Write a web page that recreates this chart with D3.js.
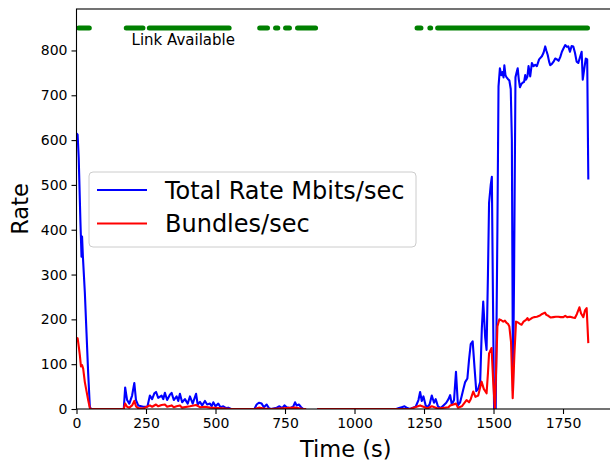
<!DOCTYPE html>
<html>
<head>
<meta charset="utf-8">
<script src="https://cdn.jsdelivr.net/npm/d3@7"></script>
<style>
  body { margin: 0; background: #fff; }
  svg { display: block; font-family: "DejaVu Sans", sans-serif; }
</style>
</head>
<body>
<svg id="chart" width="610" height="462"></svg>
<script>
// Total rate (blue), sampled times in seconds, null = gap in the trace
const rateTimes = [0, 4, 8, 14, 18, 20, 23, 30, 36, 42, 48, 52,
  170, 175, 182, 190, 200, 208, 214, 222, 240, 255, 264, 272, 280, 286, 294, 306, 312, 318, 326, 336, 342, 350,
  360, 366, 372, 380, 390, 400, 408, 418, 430, 436, 444, 452, 462, 470, 480, 486, 492, 500, 510, 518, 528, 538, 546, 556,
  640, 648, 656, 666, 674, 684, 692, 700, 720, 730, 740, 748, 756, 768, 780, 786, 792, 800, 808, 816, 826, 846,
  866, 1150, 1160, 1170, 1180, 1190, 1200, 1210, 1220, 1230, 1236, 1242, 1248, 1256, 1262, 1270, 1278, 1286, 1292,
  1300, 1310, 1320, 1330, 1338, 1344, 1350, 1358, 1365, 1372, 1380, 1386, 1391, 1398, 1406, 1412, 1418, 1425, 1432,
  1438, 1445, 1452, 1458, 1463, 1470, 1475, 1480, 1484, 1490, 1494, 1498, 1502, 1508, 1514, 1518, 1523, 1528, 1532,
  1536, 1539, 1543, 1547, 1551, 1557, 1562, 1566, 1570, 1574, 1579, 1583, 1587, 1591, 1595, 1600, 1605, 1610, 1614,
  1617, 1622, 1626, 1632, 1638, 1644, 1650, 1656, 1664, 1674, 1680, 1686, 1690, 1695, 1700, 1704, 1710, 1716, 1722,
  1728, 1734, 1740, 1746, 1752, 1758, 1764, 1769, 1775, 1781, 1787, 1793, 1799, 1805, 1811, 1817, 1821, 1826, 1832,
  1837, 1841];
const rateValues = [615, 612, 560, 420, 340, 385, 340, 260, 170, 80, 5, 0,
  0, 48, 20, 12, 30, 58, 20, 8, 5, 5, 30, 22, 35, 38, 25, 30, 22, 36, 20, 32, 36, 20,
  28, 18, 34, 15, 22, 12, 28, 12, 34, 10, 16, 8, 18, 10, 12, 6, 15, 6, 12, 4, 6, 2, 3, 0,
  0, 10, 14, 12, 4, 10, 2, 0, 3, 6, 2, 8, 4, 2, 6, 15, 8, 10, 4, 0, 0, null,
  0, 0, 2, 4, 6, 2, 0, 3, 5, 20, 38, 18, 28, 8, 4, 10, 30, 14, 22,
  6, 2, 8, 14, 22, 31, 10, 20, 83, 8, 15, 30, 43, 60, 68, 110, 145, 151, 90,
  40, 45, 60, 180, 240, 160, 132, 300, 460, 500, 518, 250, 0, 0, 400, 720, 760, 745, 752,
  740, 767, 745, 740, 737, 733, 714, 600, 40, 300, 740, 751, 760, 735, 718, 725, 728, 730, 745,
  735, 742, 765, 742, 772, 765, 768, 765, 780, 787, 795, 809, 800, 790, 775, 767, 770, 775, 782,
  780, 777, 785, 797, 805, 812, 808, 809, 797, 810, 809, 795, 775, 772, 785, 797, 735, 757, 782,
  780, 512];

// Bundles per second (red)
const bundleTimes = [0, 4, 8, 12, 16, 20, 24, 30, 36, 42, 48, 52,
  170, 175, 182, 190, 200, 208, 214, 222, 240, 264, 272, 286, 294, 306, 318, 326, 342, 350, 360, 372, 380,
  408, 430, 444, 462, 480, 510, 556,
  640, 656, 674, 700, 786, 816, 826, 846,
  866, 1200, 1236, 1248, 1262, 1278, 1300, 1338, 1344, 1365, 1372, 1386, 1403, 1412, 1418, 1427, 1435, 1445,
  1457, 1465, 1475, 1480, 1484, 1493, 1499, 1505, 1510, 1514, 1521, 1528, 1535, 1541, 1547, 1552, 1557, 1563,
  1569, 1575, 1581, 1588, 1595, 1601, 1608, 1617, 1622, 1626, 1631, 1638, 1646, 1656, 1665, 1675, 1685, 1690,
  1697, 1706, 1715, 1724, 1733, 1742, 1751, 1758, 1765, 1775, 1785, 1793, 1800, 1809, 1815, 1823, 1829, 1835,
  1841];
const bundleValues = [155, 158, 140, 120, 95, 98, 90, 60, 40, 20, 2, 0,
  0, 12, 5, 3, 8, 18, 6, 2, 1, 8, 5, 10, 6, 9, 10, 5, 8, 4, 6, 8, 3,
  6, 9, 4, 5, 3, 2, 0,
  0, 3, 1, 0, 3, 0, 0, null,
  0, 0, 8, 5, 1, 6, 1, 4, 8, 12, 3, 6, 20, 15, 22, 39, 27, 30,
  61, 45, 35, 80, 124, 136, 60, 0, 100, 184, 200, 198, 195, 197, 192, 190, 184, 150,
  24, 120, 195, 193, 190, 188, 195, 199, 203, 198, 200, 203, 205, 206, 208, 212, 215, 210,
  208, 204, 205, 206, 206, 205, 205, 208, 205, 206, 204, 203, 212, 227, 213, 205, 220, 225,
  147];

// Link availability windows (s)
const linkStart = [8, 179, 262, 659, 716, 752, 795, 1225, 1274, 1299];
const linkEnd = [46, 239, 549, 687, 724, 766, 860, 1239, 1271, 1838];

const xTicks = [0, 250, 500, 750, 1000, 1250, 1500, 1750];
const yTicks = [0, 100, 200, 300, 400, 500, 600, 700, 800];
const seriesNames = ["Total Rate Mbits/sec", "Bundles/sec"];
const seriesColors = ["blue", "red"];

const svg = d3.select("#chart");
const plot = {left: 76.5, right: 615, top: 9, bottom: 409};

const x = d3.scaleLinear().domain([0, 1937]).range([plot.left, plot.right]);
const y = d3.scaleLinear().domain([0, 892.5]).range([plot.bottom, plot.top]);

svg.append("defs").append("clipPath").attr("id", "clip")
  .append("rect")
  .attr("x", plot.left).attr("y", plot.top)
  .attr("width", plot.right - plot.left).attr("height", plot.bottom - plot.top);

const marks = svg.append("g").attr("clip-path", "url(#clip)");

// link availability
const linkLevel = 850;
marks.append("g").selectAll("line")
  .data(linkStart.map((s, i) => [s, linkEnd[i]]))
  .join("line")
  .attr("x1", d => x(d[0]))
  .attr("x2", d => x(d[1]))
  .attr("y1", y(linkLevel))
  .attr("y2", y(linkLevel))
  .attr("stroke", "green")
  .attr("stroke-width", 5)
  .attr("stroke-linecap", "round");

svg.append("text")
  .attr("x", x(198))
  .attr("y", y(812))
  .attr("font-size", 15)
  .attr("fill", "#000")
  .text("Link Available");

const line = d3.line()
  .defined(d => d[1] !== null)
  .x(d => x(d[0]))
  .y(d => y(d[1]));

const rateData = rateTimes.map((t, i) => [t, rateValues[i]]);
const bundleData = bundleTimes.map((t, i) => [t, bundleValues[i]]);

marks.append("path")
  .datum(rateData)
  .attr("fill", "none")
  .attr("stroke", seriesColors[0])
  .attr("stroke-width", 2.1)
  .attr("stroke-linejoin", "round")
  .attr("d", line);

marks.append("path")
  .datum(bundleData)
  .attr("fill", "none")
  .attr("stroke", seriesColors[1])
  .attr("stroke-width", 2.1)
  .attr("stroke-linejoin", "round")
  .attr("d", line);

// axes
const xAxis = d3.axisBottom(x).tickValues(xTicks).tickFormat(d3.format("d"))
  .tickSize(5).tickPadding(4).tickSizeOuter(0);
const gx = svg.append("g")
  .attr("transform", `translate(0, ${plot.bottom})`)
  .call(xAxis);
const yAxis = d3.axisLeft(y).tickValues(yTicks).tickFormat(d3.format("d"))
  .tickSize(5).tickPadding(4).tickSizeOuter(0);
const gy = svg.append("g")
  .attr("transform", `translate(${plot.left}, 0)`)
  .call(yAxis);

[gx, gy].forEach(g => {
  g.select(".domain").remove();
  g.selectAll(".tick line").attr("stroke", "#000").attr("stroke-width", 1.1);
  g.selectAll(".tick text")
    .attr("fill", "#000")
    .attr("font-size", 14)
    .attr("font-family", "DejaVu Sans, sans-serif");
});

// frame
svg.append("rect")
  .attr("x", plot.left).attr("y", plot.top)
  .attr("width", plot.right - plot.left).attr("height", plot.bottom - plot.top)
  .attr("fill", "none")
  .attr("stroke", "#000")
  .attr("stroke-width", 1.1);

svg.append("text")
  .attr("x", (plot.left + plot.right) / 2)
  .attr("y", 457)
  .attr("text-anchor", "middle")
  .attr("font-size", 22.5)
  .text("Time (s)");

svg.append("text")
  .attr("transform", `translate(28, ${(plot.top + plot.bottom) / 2}) rotate(-90)`)
  .attr("text-anchor", "middle")
  .attr("font-size", 22.5)
  .text("Rate");

// legend
const legend = svg.append("g");
legend.append("rect")
  .attr("x", 89).attr("y", 172)
  .attr("width", 327).attr("height", 75)
  .attr("rx", 4)
  .attr("fill", "#fff").attr("fill-opacity", 0.8)
  .attr("stroke", "#ccc").attr("stroke-width", 1);

const items = legend.selectAll("g.item")
  .data(seriesNames)
  .join("g")
  .attr("class", "item")
  .attr("transform", (d, i) => `translate(0, ${190 + i * 33.5})`);
items.append("line")
  .attr("x1", 97).attr("x2", 147)
  .attr("stroke", (d, i) => seriesColors[i])
  .attr("stroke-width", 2.1);
items.append("text")
  .attr("x", 165).attr("y", 8.5)
  .attr("font-size", 24)
  .text(d => d);
</script>
</body>
</html>
